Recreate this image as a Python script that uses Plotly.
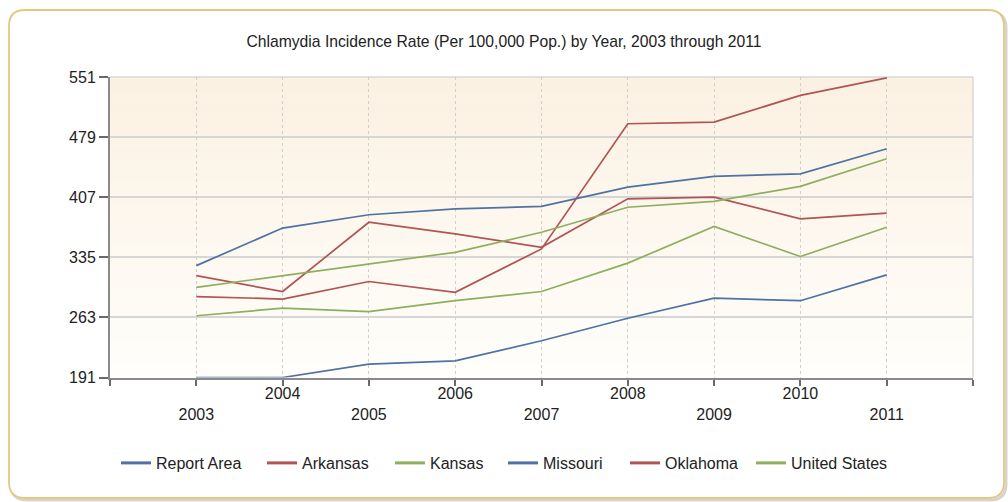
import plotly.graph_objects as go

years = [2003, 2004, 2005, 2006, 2007, 2008, 2009, 2010, 2011]
report_area = [191, 191, 207, 211, 235, 262, 286, 283, 314]
arkansas = [288, 285, 306, 293, 345, 495, 497, 529, 550]
kansas = [265, 274, 270, 283, 294, 328, 372, 336, 371]
missouri = [325, 370, 386, 393, 396, 419, 432, 435, 465]
oklahoma = [313, 294, 377, 363, 347, 405, 407, 381, 388]
united_states = [299, 313, 327, 341, 365, 395, 402, 420, 453]

series_names = ["Report Area", "Arkansas", "Kansas", "Missouri", "Oklahoma", "United States"]
series_values = [report_area, arkansas, kansas, missouri, oklahoma, united_states]

y_ticks = [191, 263, 335, 407, 479, 551]
x_tick_years = [2002, 2003, 2004, 2005, 2006, 2007, 2008, 2009, 2010, 2011, 2012]

title_text = "Chlamydia Incidence Rate (Per 100,000 Pop.) by Year, 2003 through 2011"

BLUE = "#4e72a3"
RED = "#b05454"
GREEN = "#8fae5e"
colors = [BLUE, RED, GREEN, BLUE, RED, GREEN]
# legend entry widths (px) so the items spread like the reference
legend_widths = [101, 83, 68, 77, 81, 100]

W, H = 1008, 502
FONT = "Liberation Sans"
TXT = "#222222"


def px(x):
    return x / W


def py(y):
    return 1 - y / H


def x_label(yr):
    if yr < 2003 or yr > 2011:
        return ""
    return str(yr) if yr % 2 == 0 else "<br>" + str(yr)


fig = go.Figure()

for name, vals, col in zip(series_names, series_values, colors):
    fig.add_trace(go.Scatter(x=years, y=vals, mode="lines", name=name,
                             line=dict(color=col, width=1.7), showlegend=False,
                             hoverinfo="x+y+name"))

for name, col, lw in zip(series_names, colors, legend_widths):
    # legend entry with thicker sample line
    fig.add_trace(go.Scatter(x=[None], y=[None], mode="lines", name=name,
                             line=dict(color=col, width=3), showlegend=True,
                             legendwidth=lw))

shapes = []


def rounded_path(x0, y0, x1, y1, r):
    pts = [
        f"M {px(x0 + r)} {py(y0)}",
        f"L {px(x1 - r)} {py(y0)}",
        f"Q {px(x1)} {py(y0)} {px(x1)} {py(y0 + r)}",
        f"L {px(x1)} {py(y1 - r)}",
        f"Q {px(x1)} {py(y1)} {px(x1 - r)} {py(y1)}",
        f"L {px(x0 + r)} {py(y1)}",
        f"Q {px(x0)} {py(y1)} {px(x0)} {py(y1 - r)}",
        f"L {px(x0)} {py(y0 + r)}",
        f"Q {px(x0)} {py(y0)} {px(x0 + r)} {py(y0)}",
        "Z",
    ]
    return " ".join(pts)


# shadow then border of the outer frame
shapes.append(dict(type="path", xref="paper", yref="paper",
                   path=rounded_path(11, 12, 1006, 500, 16),
                   line=dict(color="#d8d4cc", width=3), layer="below"))
shapes.append(dict(type="path", xref="paper", yref="paper",
                   path=rounded_path(9, 10, 1004, 498, 16),
                   fillcolor="white",
                   line=dict(color="#e6c77f", width=1.8), layer="below"))

# gradient plot background
n_bands = 40
top_rgb = (251, 241, 226)
bot_rgb = (255, 254, 251)
for i in range(n_bands):
    t = i / (n_bands - 1)
    r = round(top_rgb[0] + (bot_rgb[0] - top_rgb[0]) * t)
    g = round(top_rgb[1] + (bot_rgb[1] - top_rgb[1]) * t)
    b = round(top_rgb[2] + (bot_rgb[2] - top_rgb[2]) * t)
    shapes.append(dict(type="rect", xref="x domain", yref="y domain",
                       x0=0, x1=1, y0=1 - (i + 1) / n_bands, y1=1 - i / n_bands + 0.001,
                       fillcolor=f"rgb({r},{g},{b})", line=dict(width=0), layer="below"))

# light border top & right of plot area
shapes.append(dict(type="line", xref="x domain", yref="y domain", x0=0, x1=1, y0=1, y1=1,
                   line=dict(color="#d9d9d9", width=1.5), layer="below"))
shapes.append(dict(type="line", xref="x domain", yref="y domain", x0=1, x1=1, y0=0, y1=1,
                   line=dict(color="#d9d9d9", width=1.5), layer="below"))

fig.update_layout(
    width=W, height=H,
    margin=dict(l=0, r=0, t=0, b=0, autoexpand=False),
    paper_bgcolor="white",
    plot_bgcolor="rgba(0,0,0,0)",
    font=dict(family=FONT, size=16, color=TXT),
    title=dict(text=title_text, x=0.5, xanchor="center", y=py(42), yanchor="middle",
               font=dict(family=FONT, size=15.7, color=TXT)),
    showlegend=True,
    legend=dict(orientation="h", x=0.502, xanchor="center", y=py(463), yanchor="middle",
                font=dict(family=FONT, size=16, color=TXT),
                bgcolor="rgba(0,0,0,0)", itemwidth=30),
    shapes=shapes,
    xaxis=dict(domain=[px(110), px(973)], range=[2002, 2012],
               tickmode="array", tickvals=x_tick_years,
               ticktext=[x_label(v) for v in x_tick_years],
               showgrid=True, gridcolor="#cfcfcf", griddash="dot", gridwidth=1,
               showline=True, linecolor="#8a8a8a", linewidth=2,
               ticks="outside", ticklen=6, tickcolor="#6a6a6a", tickwidth=1.5,
               ticklabelstandoff=-6,
               zeroline=False, fixedrange=True, automargin=False,
               tickfont=dict(family=FONT, size=16, color=TXT)),
    yaxis=dict(domain=[py(377.5), py(77)], range=[191, 551],
               tickmode="array", tickvals=y_ticks,
               showgrid=True, gridcolor="#d6d6d6", gridwidth=1.5,
               showline=True, linecolor="#8a8a8a", linewidth=2,
               ticks="outside", ticklen=9, tickcolor="#6a6a6a", tickwidth=1.5,
               zeroline=False, fixedrange=True, automargin=False,
               tickfont=dict(family=FONT, size=16, color=TXT)),
)

fig.write_html("out.html", config={"displayModeBar": False},
               post_script="document.body.style.margin='0';")
